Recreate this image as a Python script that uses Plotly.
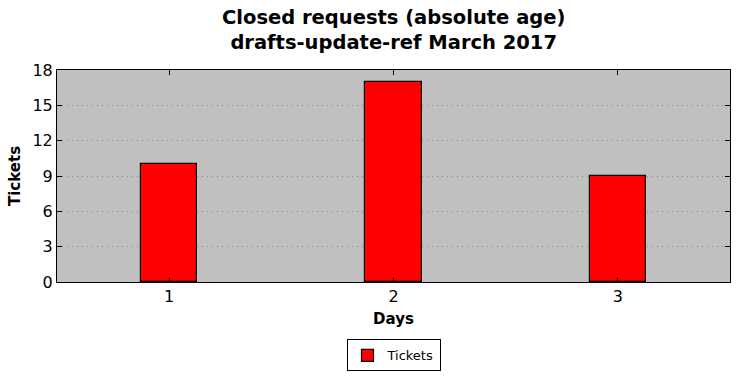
import plotly.graph_objects as go

days = [1, 2, 3]
tickets = [10, 17, 9]
y_ticks = [0, 3, 6, 9, 12, 15, 18]
title_text = "<b>Closed requests (absolute age)<br>drafts-update-ref March 2017</b>"

fig = go.Figure()
fig.add_trace(go.Bar(
    x=days, y=tickets, name="Tickets", width=0.25,
    marker=dict(color="#ff0000", line=dict(color="#000000", width=1.2)),
))

font = "DejaVu Sans, sans-serif"
fig.update_layout(
    width=740, height=378,
    margin=dict(l=57, r=10, t=70, b=96, autoexpand=False),
    paper_bgcolor="white", plot_bgcolor="#c0c0c0",
    font=dict(family=font, color="black"),
    showlegend=True,
    legend=dict(
        orientation="h", x=0.5, xanchor="center",
        yref="container", y=0.102, yanchor="top",
        bordercolor="black", borderwidth=1, font=dict(size=13),
    ),
    bargap=0,
)
fig.add_annotation(
    text=title_text, xref="paper", yref="paper", x=0.5, y=1.189,
    xanchor="center", yanchor="middle", showarrow=False,
    font=dict(size=19.5, family=font), align="center",
)
fig.update_xaxes(
    range=[0.5, 3.5], tickvals=days, ticktext=[str(d) for d in days],
    ticks="inside", ticklen=5, tickcolor="black", mirror="ticks",
    showline=True, linecolor="black", linewidth=1, showgrid=False,
    tickfont=dict(size=16),
    title=dict(text="<b>Days</b>", font=dict(size=15), standoff=8),
    zeroline=False,
)
fig.update_yaxes(
    range=[0, 18], tickvals=y_ticks,
    ticks="inside", ticklen=5, tickcolor="black", mirror="ticks",
    showline=True, linecolor="black", linewidth=1,
    showgrid=True, gridcolor="#8a8a8a", griddash="1px,4px", gridwidth=1,
    tickfont=dict(size=16),
    title=dict(text="<b>Tickets</b>", font=dict(size=15), standoff=8),
    zeroline=False,
)
fig.write_html("out.html")
